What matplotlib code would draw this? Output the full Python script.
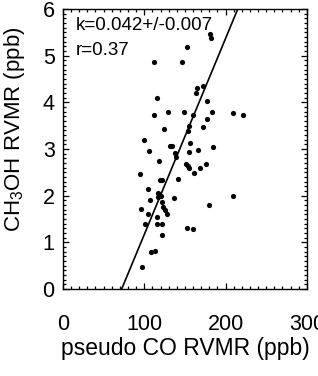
import matplotlib
matplotlib.use('Agg')
import matplotlib.pyplot as plt
from matplotlib.ticker import MultipleLocator
import numpy as np

plt.rcParams['font.family'] = ['Liberation Sans', 'DejaVu Sans']
plt.rcParams['mathtext.fontset'] = 'custom'
plt.rcParams['mathtext.rm'] = 'Liberation Sans'
plt.rcParams['mathtext.it'] = 'Liberation Sans:italic'

# pseudo CO (ppb) vs CH3OH (ppb)
co = [180.7, 182.0, 152.1, 111.9, 146.7, 172.5, 165.1, 163.1, 115.2, 176.7,
      112.3, 129.5, 148.8, 160.2, 182.8, 208.6, 221.7, 176.7, 124.6, 155.3,
      154.1, 171.8, 99.6, 156.2, 131.6, 134.4, 105.7, 137.7, 138.5, 155.3,
      166.4, 184.1, 118.0, 151.2, 154.1, 155.0, 175.8, 168.8, 161.1, 94.7,
      119.3, 121.4, 141.8, 104.9, 117.0, 118.0, 120.0, 117.0, 136.5, 107.0,
      121.4, 123.3, 125.4, 127.5, 208.7, 179.5, 95.5, 104.9, 115.2, 100.8,
      115.2, 121.4, 152.1, 159.5, 121.4, 107.8, 113.1, 97.5]
ch3oh = [5.46, 5.39, 5.18, 4.87, 4.87, 4.35, 4.30, 4.21, 4.10, 4.03,
         3.73, 3.79, 3.79, 3.73, 3.79, 3.78, 3.74, 3.64, 3.42, 3.50,
         3.39, 3.47, 3.19, 3.12, 3.06, 3.06, 2.96, 2.91, 2.83, 2.94,
         2.98, 3.04, 2.74, 2.69, 2.64, 2.59, 2.68, 2.60, 2.48, 2.46,
         2.34, 2.34, 2.35, 2.14, 2.06, 2.02, 1.99, 1.97, 1.96, 1.92,
         1.86, 1.76, 1.69, 1.62, 2.00, 1.80, 1.71, 1.62, 1.55, 1.39,
         1.39, 1.39, 1.31, 1.29, 1.17, 0.79, 0.81, 0.48]

# fit line
slope = 0.042
intercept = -3.03
fit_text = ['k=0.042+/-0.007', 'r=0.37']

fig = plt.figure(figsize=(3.18, 3.76), dpi=100)
ax = fig.add_axes([0.198, 0.231, 0.767, 0.745])

ax.scatter(co, ch3oh, s=14, color='black', linewidths=0, zorder=3)
xl = np.array([0, 300])
ax.plot(xl, slope * xl + intercept, color='black', lw=1.2, zorder=2)

ax.set_xlim(0, 300)
ax.set_ylim(0, 6)
ax.xaxis.set_major_locator(MultipleLocator(100))
ax.xaxis.set_minor_locator(MultipleLocator(10))
ax.yaxis.set_major_locator(MultipleLocator(1))
ax.yaxis.set_minor_locator(MultipleLocator(0.1))
ax.tick_params(which='both', direction='in', top=True, right=True, width=0.9)
ax.tick_params(which='major', length=4.5, labelsize=15.5)
ax.tick_params(which='minor', length=2)
ax.tick_params(axis='x', which='major', pad=18)
ax.tick_params(axis='y', which='major', pad=6)
for sp in ax.spines.values():
    sp.set_linewidth(1.0)

ax.set_xlabel('pseudo CO RVMR (ppb)', fontsize=16.5, labelpad=1)
ax.set_ylabel('CH$_3$OH RVMR (ppb)', fontsize=16)
ax.yaxis.set_label_coords(-0.148, 0.57)

ax.text(0.053, 0.97, fit_text[0], transform=ax.transAxes, fontsize=13.5, va='top', ha='left')
ax.text(0.053, 0.884, fit_text[1], transform=ax.transAxes, fontsize=13.5, va='top', ha='left')

fig.savefig('out.png', dpi=100)
